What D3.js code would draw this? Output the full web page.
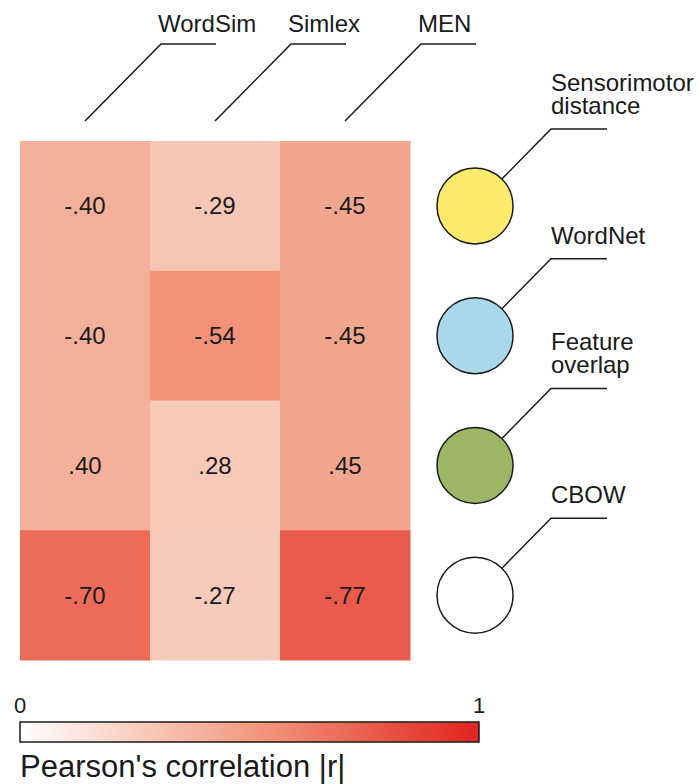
<!DOCTYPE html>
<html>
<head>
<meta charset="utf-8">
<script src="https://cdn.jsdelivr.net/npm/d3@7"></script>
<style>
  body { margin: 0; background: #fff; }
  text { font-family: "Liberation Sans", Arial, sans-serif; fill: #1a1a1a; }
</style>
</head>
<body>
<svg id="chart" width="699" height="784"></svg>
<script>
// data
const datasets = ["WordSim", "Simlex", "MEN"];
const models = ["Sensorimotor distance", "WordNet", "Feature overlap", "CBOW"];
const modelColors = ["#ffeb6b", "#a9d8ea", "#9db665", "#ffffff"];
const values = [
  [-0.40, -0.29, -0.45],
  [-0.40, -0.54, -0.45],
  [0.40, 0.28, 0.45],
  [-0.70, -0.27, -0.77]
];
const legendTicks = [0, 1];

const svg = d3.select("#chart");

// scales
const x = d3.scaleBand().domain(datasets).range([20, 410]);
const y = d3.scaleBand().domain(models).range([141, 660]);
const color = d3.scaleLinear()
  .domain([0, 0.5, 1])
  .range(["#ffffff", "#f29c81", "#e2231e"]);

// "-.40" style, plain hyphen and no leading zero
const fmt = (v) => d3.format(".2f")(v).replace("\u2212", "-").replace("0.", ".");

// heatmap cells
const rows = svg.append("g").selectAll("g")
  .data(values)
  .join("g")
  .attr("transform", (d, i) => `translate(0,${y(models[i])})`);

rows.selectAll("rect")
  .data((d) => d)
  .join("rect")
  .attr("x", (d, j) => x(datasets[j]))
  .attr("width", x.bandwidth() + 0.5)
  .attr("height", y.bandwidth() + 0.5)
  .attr("fill", (d) => color(Math.abs(d)));

rows.selectAll("text")
  .data((d) => d)
  .join("text")
  .attr("x", (d, j) => x(datasets[j]) + x.bandwidth() / 2)
  .attr("y", y.bandwidth() / 2)
  .attr("dy", "0.35em")
  .attr("text-anchor", "middle")
  .style("font-size", "24px")
  .text(fmt);

// column labels with angled leaders
const colLab = svg.append("g").selectAll("g")
  .data(datasets)
  .join("g")
  .attr("transform", (d) => `translate(${x(d) + x.bandwidth() / 2},0)`);

colLab.append("path")
  .attr("d", "M0,121L76,44L131,44")
  .attr("fill", "none")
  .attr("stroke", "#1a1a1a")
  .attr("stroke-width", 1.5);

colLab.append("text")
  .attr("x", 73)
  .attr("y", 32)
  .style("font-size", "24px")
  .text((d) => d);

// model circles on the right
const cx = 475;
const r = 38;
const mods = svg.append("g").selectAll("g")
  .data(models)
  .join("g")
  .attr("transform", (d) => `translate(${cx},${y(d) + y.bandwidth() / 2})`);

mods.append("path")
  .attr("d", `M${r * Math.SQRT1_2},${-r * Math.SQRT1_2}L76,-77L132,-77`)
  .attr("fill", "none")
  .attr("stroke", "#1a1a1a")
  .attr("stroke-width", 1.5);

mods.append("circle")
  .attr("r", r)
  .attr("fill", (d, i) => modelColors[i])
  .attr("stroke", "#1a1a1a")
  .attr("stroke-width", 1.5);

// one text per line, last line sits just above the leader
mods.each(function (d) {
  const lines = d.split(" ");
  d3.select(this).selectAll("text")
    .data(lines)
    .join("text")
    .attr("x", 76)
    .attr("y", (ln, k) => -92 - (lines.length - 1 - k) * 23)
    .style("font-size", "24px")
    .text((ln) => ln);
});

// colour bar legend
const lx = d3.scaleLinear().domain([0, 1]).range([20, 479]);
const defs = svg.append("defs");
const grad = defs.append("linearGradient").attr("id", "grad");
d3.range(0, 1.01, 0.1).forEach((t) => {
  grad.append("stop")
    .attr("offset", `${t * 100}%`)
    .attr("stop-color", color(t));
});

svg.append("rect")
  .attr("x", lx(0))
  .attr("y", 722)
  .attr("width", lx(1) - lx(0))
  .attr("height", 20)
  .attr("fill", "url(#grad)")
  .attr("stroke", "#1a1a1a")
  .attr("stroke-width", 1.5);

svg.append("g").selectAll("text")
  .data(legendTicks)
  .join("text")
  .attr("x", (d) => lx(d))
  .attr("y", 713)
  .attr("text-anchor", "middle")
  .style("font-size", "22px")
  .text((d) => d);

svg.append("text")
  .attr("x", 20)
  .attr("y", 777)
  .style("font-size", "31px")
  .text("Pearson's correlation |r|");
</script>
</body>
</html>
